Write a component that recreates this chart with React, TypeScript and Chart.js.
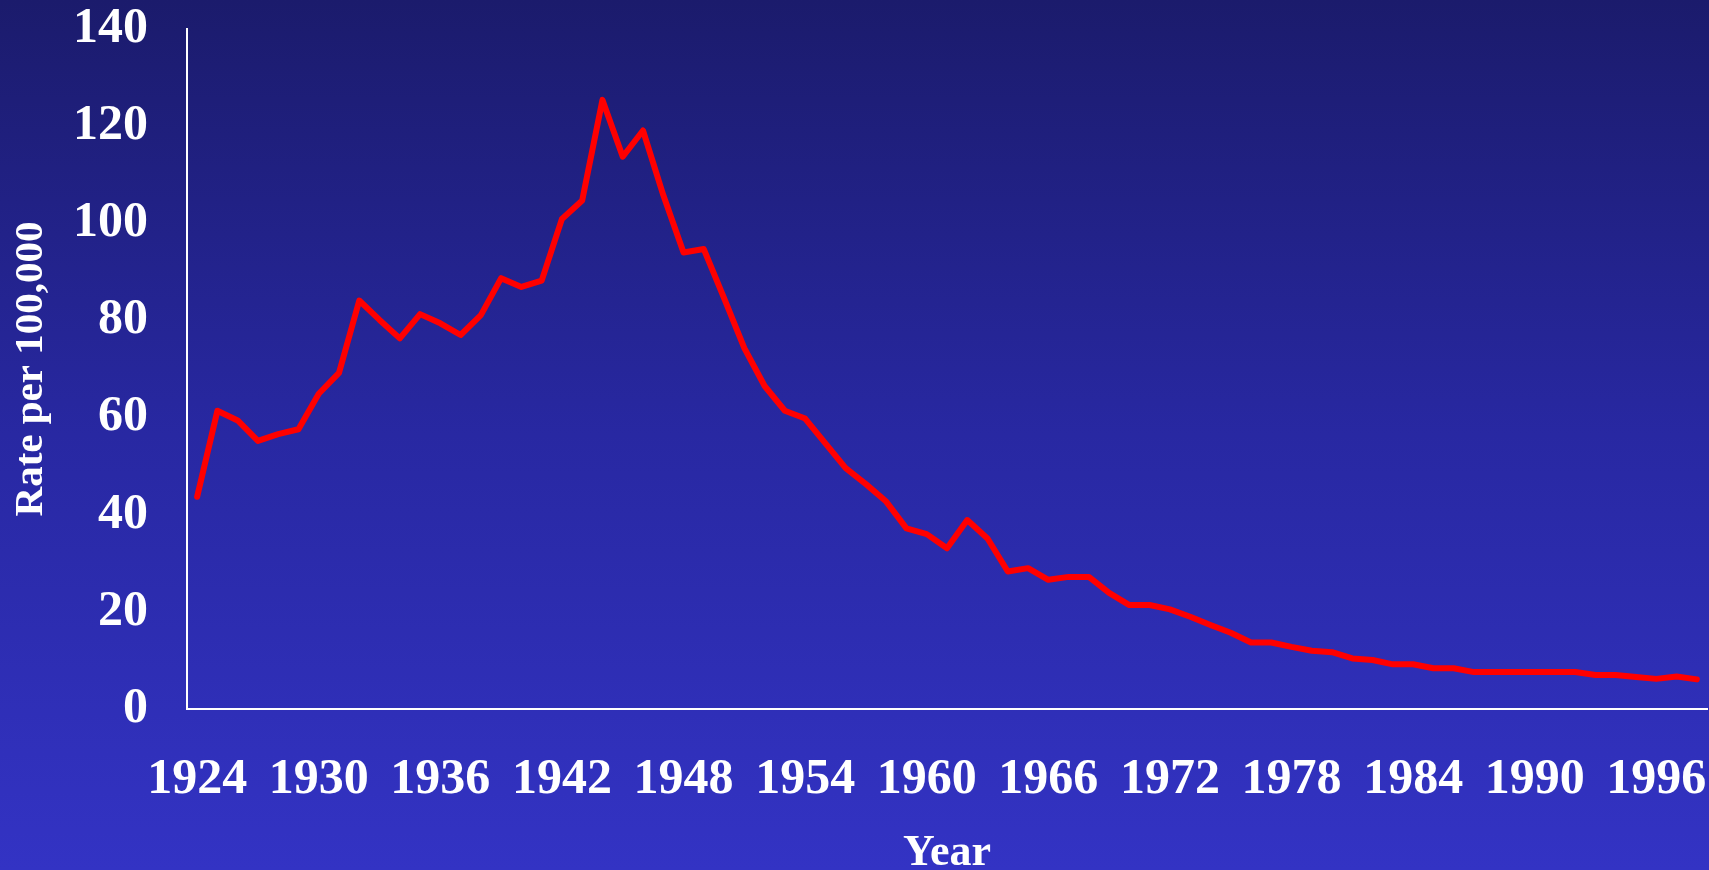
import React, { useEffect, useRef } from "react";
import { Chart, registerables } from "chart.js";

Chart.register(...registerables);

const years: string[] = [];
for (let y = 1924; y <= 1998; y++) years.push(String(y));

const rates: number[] = [
  43.7, 61.4, 59.4, 55.2, 56.6, 57.6, 64.9, 69.2, 84.1, 80.1,
  76.3, 81.3, 79.4, 77.0, 81.1, 88.7, 86.9, 88.2, 100.9, 104.7,
  125.4, 113.7, 119.1, 105.8, 94.0, 94.7, 84.6, 74.3, 66.5, 61.4,
  59.8, 54.7, 49.6, 46.3, 42.7, 37.2, 36.0, 33.1, 38.9, 35.1,
  28.3, 29.0, 26.6, 27.2, 27.2, 23.9, 21.4, 21.4, 20.5, 19.0,
  17.3, 15.7, 13.7, 13.7, 12.8, 12.0, 11.7, 10.4, 10.1, 9.2,
  9.2, 8.4, 8.4, 7.6, 7.6, 7.6, 7.6, 7.6, 7.6, 7.0,
  7.0, 6.6, 6.2, 6.7, 6.1,
];

const labelEvery = 6;
const yTitle = "Rate per 100,000";
const xTitle = "Year";

const FONT = "'Liberation Serif', 'Times New Roman', Times, serif";

export default function App() {
  const ref = useRef<HTMLCanvasElement | null>(null);

  useEffect(() => {
    if (!ref.current) return;
    const chart = new Chart(ref.current, {
      type: "line",
      data: {
        labels: years,
        datasets: [
          {
            data: rates,
            borderColor: "#ff0000",
            borderWidth: 6,
            pointRadius: 0,
            borderJoinStyle: "round",
            borderCapStyle: "round",
            tension: 0,
            fill: false,
          },
        ],
      },
      options: {
        animation: false,
        responsive: false,
        devicePixelRatio: 1,
        layout: { padding: { top: 29, left: 0, right: 2, bottom: 0 } },
        plugins: {
          legend: { display: false },
          tooltip: { enabled: false },
        },
        scales: {
          x: {
            type: "category",
            offset: true,
            grid: { display: false, drawTicks: false },
            border: { display: true, color: "#ffffff", width: 2 },
            ticks: {
              autoSkip: false,
              maxRotation: 0,
              minRotation: 0,
              padding: 41,
              color: "#ffffff",
              font: { family: FONT, size: 50, weight: "bold" },
              callback: (_v: any, i: number) => (i % labelEvery === 0 ? years[i] : ""),
            },
            title: {
              display: true,
              text: xTitle,
              color: "#ffffff",
              font: { family: FONT, size: 44, weight: "bold" },
              padding: { top: 0, bottom: 20 },
            },
            afterFit: (s: any) => {
              s.height = 191;
              s.paddingLeft = 0;
              s.paddingRight = 0;
              s.paddingTop = 0;
              s.paddingBottom = 0;
            },
          },
          y: {
            min: 0,
            max: 140,
            grid: { display: false, drawTicks: false },
            border: { display: true, color: "#ffffff", width: 2 },
            ticks: {
              stepSize: 20,
              padding: 39,
              color: "#ffffff",
              font: { family: FONT, size: 50, weight: "bold" },
            },
            title: {
              display: true,
              text: yTitle,
              color: "#ffffff",
              font: { family: FONT, size: 41, weight: "bold" },
              padding: { top: 7, bottom: 0 },
            },
            afterFit: (s: any) => {
              s.width = 187;
              s.paddingLeft = 0;
              s.paddingRight = 0;
              s.paddingTop = 0;
              s.paddingBottom = 0;
            },
          },
        },
      },
    } as any);
    return () => chart.destroy();
  }, []);

  return (
    <div
      style={{
        position: "fixed",
        left: 0,
        top: 0,
        width: 1709,
        height: 870,
        overflow: "hidden",
        background: "linear-gradient(to bottom, #1b1b6c 0%, #2828a2 50%, #3333c4 100%)",
      }}
    >
      <canvas ref={ref} width={1709} height={900} style={{ display: "block" }} />
    </div>
  );
}
